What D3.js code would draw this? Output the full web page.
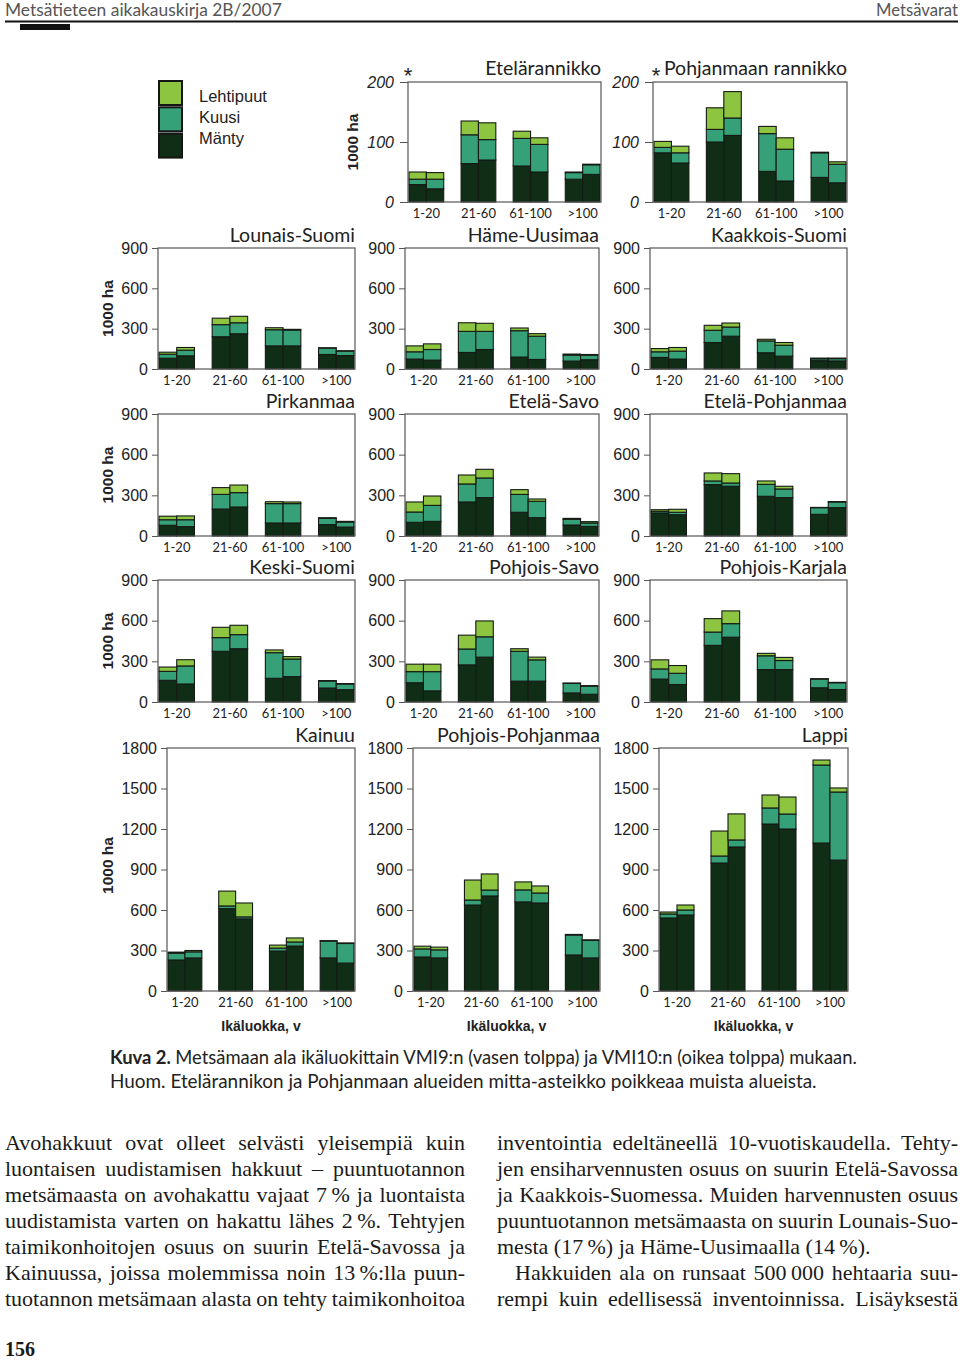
<!DOCTYPE html>
<html><head><meta charset="utf-8">
<script src="https://cdn.jsdelivr.net/npm/d3@7"></script>
<style>body{margin:0;background:#fff} svg{display:block}</style>
</head><body><svg id="c" width="960" height="1360"></svg>
<script>
// ---- DATA (1000 ha) ----
const ageClasses = ["1-20", "21-60", "61-100", ">100"];
const inventories = ["VMI9", "VMI10"];
const species = ["Mänty", "Kuusi", "Lehtipuut"];           // stacking order, bottom to top
const legendLabels = ["Lehtipuut", "Kuusi", "Mänty"];
const tickLabelsSmall = [0, 100, 200];
const tickLabelsMid = [0, 300, 600, 900];
const tickLabelsLarge = [0, 300, 600, 900, 1200, 1500, 1800];
// each region: [Mänty, Kuusi, Lehtipuut]; values: 1-20 VMI9, 1-20 VMI10, 21-60 VMI9, 21-60 VMI10, 61-100 VMI9, 61-100 VMI10, >100 VMI9, >100 VMI10
const etelarannikko = [[29,22,64,70,60,50,38,46],[9,16,48,34,46,46,11,16],[12,11,23,28,12,11,1,1]];
const pohjanmaanRannikko = [[82,65,100,111,51,35,41,32],[9,17,21,29,63,53,41,31],[10,11,36,44,12,19,1,4]];
const lounaisSuomi = [[80,98,240,262,172,172,108,100],[30,42,90,82,120,118,47,33],[15,20,48,48,15,5,3,3]];
const hameUusimaa = [[74,66,123,145,89,71,59,69],[54,79,157,135,196,173,44,34],[44,42,64,60,20,19,8,5]];
const kaakkoisSuomi = [[86,74,197,244,121,96,62,60],[42,59,91,68,88,81,14,17],[24,27,37,30,12,20,5,4]];
const pirkanmaa = [[79,69,199,214,96,96,84,66],[41,51,108,106,143,143,46,37],[26,28,50,56,14,12,5,5]];
const etelaSavo = [[101,108,251,283,175,135,81,71],[76,118,133,145,132,121,42,25],[74,69,66,64,35,17,7,10]];
const etelaPohjanmaa = [[170,157,379,367,293,283,160,209],[12,18,27,24,88,64,49,42],[12,22,59,69,25,20,2,3]];
const keskiSuomi = [[160,133,374,393,175,187,103,91],[66,133,101,104,189,130,52,42],[32,46,76,69,20,18,3,3]];
const pohjoisSavo = [[142,82,274,331,154,154,67,57],[82,142,117,150,220,157,70,60],[55,55,102,117,19,20,3,4]];
const pohjoisKarjala = [[169,129,418,478,239,239,105,92],[75,83,98,100,102,67,64,50],[67,57,99,94,18,23,3,3]];
const kainuu = [[230,245,610,534,296,333,245,207],[50,45,20,15,22,30,125,145],[8,10,110,103,22,30,3,4]];
const pohjoisPohjanmaa = [[252,245,637,704,660,652,267,245],[60,60,37,44,89,74,148,130],[20,20,148,119,59,52,4,4]];
const lappi = [[541,563,948,1067,1237,1200,1096,970],[30,37,52,52,119,111,578,504],[14,37,185,193,96,126,37,30]];

// ---- LAYOUT ----
const colors = {"Mänty":"#0f2e15","Kuusi":"#36a078","Lehtipuut":"#8dc540"};
const rows = [
  {top:82, bottom:202, max:200, ticks:tickLabelsSmall, italic:true, cols:[null,[408,601],[653,847]]},
  {top:248, bottom:369, max:900, ticks:tickLabelsMid, cols:[[158,355],[405,599],[650,847]]},
  {top:414, bottom:536, max:900, ticks:tickLabelsMid, cols:[[158,355],[405,599],[650,847]]},
  {top:580, bottom:702, max:900, ticks:tickLabelsMid, cols:[[158,355],[405,599],[650,847]]},
  {top:748, bottom:991, max:1800, ticks:tickLabelsLarge, cols:[[167,355],[413,600],[659,848]]}
];
const panels = [
  {name:"Etelärannikko", data:etelarannikko, row:0, col:1},
  {name:"Pohjanmaan rannikko", data:pohjanmaanRannikko, row:0, col:2},
  {name:"Lounais-Suomi", data:lounaisSuomi, row:1, col:0},
  {name:"Häme-Uusimaa", data:hameUusimaa, row:1, col:1},
  {name:"Kaakkois-Suomi", data:kaakkoisSuomi, row:1, col:2},
  {name:"Pirkanmaa", data:pirkanmaa, row:2, col:0},
  {name:"Etelä-Savo", data:etelaSavo, row:2, col:1},
  {name:"Etelä-Pohjanmaa", data:etelaPohjanmaa, row:2, col:2},
  {name:"Keski-Suomi", data:keskiSuomi, row:3, col:0},
  {name:"Pohjois-Savo", data:pohjoisSavo, row:3, col:1},
  {name:"Pohjois-Karjala", data:pohjoisKarjala, row:3, col:2},
  {name:"Kainuu", data:kainuu, row:4, col:0},
  {name:"Pohjois-Pohjanmaa", data:pohjoisPohjanmaa, row:4, col:1},
  {name:"Lappi", data:lappi, row:4, col:2}
];

const svg = d3.select("#c");
const SANS = "Lato, 'Open Sans', sans-serif";
const ARIAL = "'Liberation Sans', Arial, sans-serif";
const SERIF = "'Liberation Serif', 'Times New Roman', serif";

function fitWidth(sel, target) {
  const w = sel.node().getComputedTextLength();
  const fs = parseFloat(sel.attr("font-size"));
  sel.attr("font-size", (fs * target / w).toFixed(2));
}

// header
const h1 = svg.append("text").attr("x",5).attr("y",16).attr("font-family",SANS).attr("font-size",17)
  .attr("fill","#555").text("Metsätieteen aikakauskirja 2B/2007");
fitWidth(h1, 277);
const h2 = svg.append("text").attr("x",958).attr("y",16).attr("text-anchor","end").attr("font-family",SANS)
  .attr("font-size",17).attr("fill","#555").text("Metsävarat");
fitWidth(h2, 82);
svg.append("line").attr("x1",5).attr("x2",958).attr("y1",21.5).attr("y2",21.5).attr("stroke","#111").attr("stroke-width",2.2);
svg.append("rect").attr("x",20).attr("y",24).attr("width",50).attr("height",6).attr("fill","#111");

// legend
legendLabels.forEach((s,i)=>{
  svg.append("rect").attr("x",159).attr("y",81+i*26.3).attr("width",23).attr("height",24)
    .attr("fill",colors[s]).attr("stroke","#151515").attr("stroke-width",2);
  svg.append("text").attr("x",199).attr("y",102+i*21).attr("font-family",ARIAL).attr("font-size",16.5)
    .attr("fill","#222").text(s);
});

// panels
panels.forEach(p=>{
  const r = rows[p.row];
  const [left,right] = r.cols[p.col];
  const g = svg.append("g");
  const y = d3.scaleLinear().domain([0,r.max]).range([r.bottom, r.top]);
  const x0 = d3.scaleBand().domain(ageClasses).range([left+1,right-1]).paddingInner(1/3).paddingOuter(0);
  const x1 = d3.scaleBand().domain(inventories).range([0,x0.bandwidth()]).padding(0);
  const rowsData = [];
  ageClasses.forEach((a,i)=>inventories.forEach((v,j)=>{
    const o = {age:a, inv:v};
    species.forEach((s,k)=>o[s]=p.data[k][i*2+j]);
    rowsData.push(o);
  }));
  const stacked = d3.stack().keys(species)(rowsData);
  stacked.forEach(layer=>{
    g.selectAll(null).data(layer).enter().append("rect")
      .attr("x",d=>x0(d.data.age)+x1(d.data.inv))
      .attr("y",d=>y(d[1]))
      .attr("width",x1.bandwidth())
      .attr("height",d=>Math.max(0,y(d[0])-y(d[1])))
      .attr("fill",colors[layer.key])
      .attr("stroke","#151a15").attr("stroke-width",1.1);
  });
  // frame
  g.append("rect").attr("x",left).attr("y",r.top).attr("width",right-left).attr("height",r.bottom-r.top)
    .attr("fill","none").attr("stroke","#555").attr("stroke-width",1.2);
  // y axis
  const ax = g.append("g").attr("transform",`translate(${left},0)`)
    .call(d3.axisLeft(y).tickValues(r.ticks).tickSize(r.italic?8:6).tickPadding(r.italic?6:4).tickFormat(d3.format("d")));
  ax.select(".domain").remove();
  ax.selectAll("line").attr("stroke","#555");
  ax.selectAll("text").attr("font-family",ARIAL).attr("font-size",16).attr("fill","#222")
    .attr("font-style",r.italic?"italic":"normal");
  // x labels
  g.selectAll(null).data(ageClasses).enter().append("text")
    .attr("x",d=>x0(d)+x0.bandwidth()/2).attr("y",r.bottom+16)
    .attr("text-anchor","middle").attr("font-family",SANS).attr("font-size",13).attr("fill","#222").text(d=>d);
  // title
  g.append("text").attr("x",right).attr("y",r.top-(p.row===0?7:6)).attr("text-anchor","end")
    .attr("font-family",SANS).attr("font-size",19.5).attr("fill","#222").text(p.name);
  if (p.row===0) {
    g.append("text").attr("x",p.col===1?left:left+3).attr("y",r.top+1).attr("text-anchor","middle")
      .attr("font-family",ARIAL).attr("font-size",22).attr("fill","#222").text("*");
  }
  // y title
  if (p.col===0 || (p.row===0 && p.col===1)) {
    const cx = p.row===0 ? 358 : 113, cy = (r.top+r.bottom)/2 - (p.row===4?4:0);
    g.append("text").attr("transform",`translate(${cx},${cy}) rotate(-90)`).attr("text-anchor","middle")
      .attr("font-family",ARIAL).attr("font-weight","bold").attr("font-size",15.5).attr("fill","#222").text("1000 ha");
  }
  if (p.row===4) {
    g.append("text").attr("x",(left+right)/2).attr("y",1031).attr("text-anchor","middle")
      .attr("font-family",ARIAL).attr("font-weight","bold").attr("font-size",14).attr("fill","#222").text("Ikäluokka, v");
  }
});

// caption
const c1 = svg.append("text").attr("x",110).attr("y",1064).attr("font-family",SANS).attr("font-size",17.5).attr("fill","#222");
c1.append("tspan").attr("font-weight","bold").text("Kuva 2. ");
c1.append("tspan").text("Metsämaan ala ikäluokittain VMI9:n (vasen tolppa) ja VMI10:n (oikea tolppa) mukaan.");
fitWidth(c1, 747);
const c2 = svg.append("text").attr("x",110).attr("y",1088).attr("font-family",SANS).attr("font-size",17.5).attr("fill","#222")
  .text("Huom. Etelärannikon ja Pohjanmaan alueiden mitta-asteikko poikkeaa muista alueista.");
fitWidth(c2, 707);

// body text (U+202F = narrow no-break space)
const leftCol = [
  "Avohakkuut ovat olleet selvästi yleisempiä kuin",
  "luontaisen uudistamisen hakkuut – puuntuotannon",
  "metsämaasta on avohakattu vajaat 7\u202F% ja luontaista",
  "uudistamista varten on hakattu lähes 2\u202F%. Tehtyjen",
  "taimikonhoitojen osuus on suurin Etelä-Savossa ja",
  "Kainuussa, joissa molemmissa noin 13\u202F%:lla puun-",
  "tuotannon metsämaan alasta on tehty taimikonhoitoa"
];
const rightCol = [
  "inventointia edeltäneellä 10-vuotiskaudella. Tehty-",
  "jen ensiharvennusten osuus on suurin Etelä-Savossa",
  "ja Kaakkois-Suomessa. Muiden harvennusten osuus",
  "puuntuotannon metsämaasta on suurin Lounais-Suo-",
  "mesta (17\u202F%) ja Häme-Uusimaalla (14\u202F%).",
  "Hakkuiden ala on runsaat 500\u202F000 hehtaaria suu-",
  "rempi kuin edellisessä inventoinnissa. Lisäyksestä"
];
function bodyLine(txt, x, yb, width, justify) {
  const t = svg.append("text").attr("x",x).attr("y",yb).attr("font-family",SERIF).attr("font-size",22)
    .attr("fill","#1a1a1a").text(txt);
  if (justify) {
    const w = t.node().getComputedTextLength();
    const n = (txt.match(/ /g)||[]).length;
    if (n>0) t.attr("word-spacing", ((width-w)/n).toFixed(2));
  }
}
leftCol.forEach((l,i)=>bodyLine(l,5,1150+i*26,460,true));
rightCol.forEach((l,i)=>{
  if (i===4) bodyLine(l,497,1150+i*26,461,false);
  else if (i===5) bodyLine(l,515,1150+i*26,443,true);
  else bodyLine(l,497,1150+i*26,461,true);
});
svg.append("text").attr("x",5).attr("y",1356).attr("font-family",SERIF).attr("font-weight","bold")
  .attr("font-size",20).attr("fill","#1a1a1a").text("156");
</script>
</body></html>
